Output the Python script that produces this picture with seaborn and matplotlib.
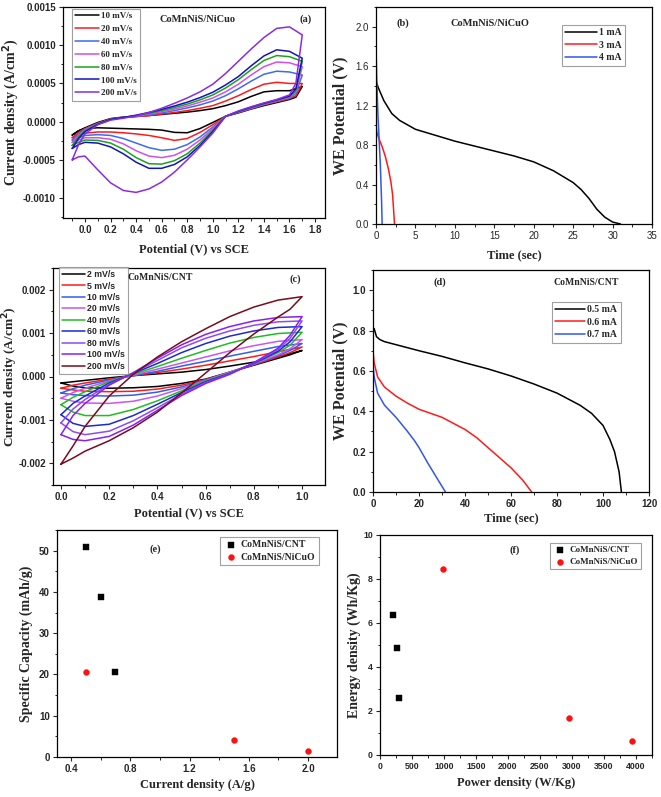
import matplotlib
matplotlib.use("Agg")
import matplotlib.pyplot as plt
from matplotlib.ticker import AutoMinorLocator, FormatStrFormatter, MultipleLocator
import pandas as pd
import seaborn as sns

W, H = 661, 797

# ---------------- (a) CV, CoMnNiS/NiCuO  (current in 1e-4 A/cm2) ----------------
A_RATES = ["10 mV/s", "20 mV/s", "40 mV/s", "60 mV/s", "80 mV/s", "100 mV/s", "200 mV/s"]
A_COLORS = ["black", "#ff1a1a", "#3a6cf4", "#d24fe8", "#1aa31a", "#1414b8", "#8a2be2"]
A_E_FWD = [-0.1, -0.05, 0.0, 0.1, 0.2, 0.3, 0.4, 0.5, 0.6, 0.7, 0.8, 0.9, 1.0, 1.1, 1.2, 1.3, 1.4, 1.5, 1.6, 1.7]
A_E_BWD = [1.7, 1.65, 1.6, 1.5, 1.4, 1.3, 1.2, 1.1, 1.0, 0.9, 0.8, 0.7, 0.6, 0.5, 0.4, 0.3, 0.2, 0.1, 0.0, -0.05, -0.1]
A_FWD = {
    "10 mV/s": [-1.75, -1.2, -0.8, -0.1, 0.4, 0.6, 0.7, 0.8, 0.95, 1.1, 1.25, 1.45, 1.7, 2.1, 2.6, 3.3, 3.9, 4.05, 4.05, 4.6],
    "20 mV/s": [-2.1, -1.4, -0.9, -0.2, 0.35, 0.55, 0.65, 0.8, 1.0, 1.2, 1.45, 1.75, 2.1, 2.7, 3.4, 4.2, 4.9, 5.15, 5.0, 5.0],
    "40 mV/s": [-2.4, -1.6, -1.0, -0.25, 0.3, 0.55, 0.7, 0.9, 1.15, 1.45, 1.8, 2.2, 2.7, 3.4, 4.3, 5.3, 6.2, 6.6, 6.5, 6.1],
    "60 mV/s": [-2.7, -1.8, -1.1, -0.3, 0.3, 0.55, 0.75, 1.0, 1.3, 1.65, 2.05, 2.55, 3.1, 3.9, 4.9, 6.1, 7.2, 7.8, 7.7, 7.2],
    "80 mV/s": [-3.1, -2.0, -1.2, -0.3, 0.3, 0.55, 0.8, 1.1, 1.45, 1.85, 2.3, 2.85, 3.5, 4.4, 5.5, 6.8, 8.0, 8.65, 8.5, 7.9],
    "100 mV/s": [-3.5, -2.2, -1.3, -0.35, 0.3, 0.55, 0.85, 1.2, 1.6, 2.05, 2.55, 3.15, 3.85, 4.8, 5.9, 7.3, 8.6, 9.4, 9.2, 8.3],
    "200 mV/s": [-5.0, -3.0, -1.6, -0.4, 0.2, 0.45, 0.75, 1.2, 1.75, 2.4, 3.1, 3.9, 4.9, 6.3, 7.9, 9.5, 11.0, 12.2, 12.4, 11.35],
}
A_BWD = {
    "10 mV/s": [4.6, 3.2, 2.9, 2.5, 2.1, 1.65, 1.15, 0.7, -0.1, -0.9, -1.45, -1.4, -1.1, -1.0, -0.95, -0.9, -0.85, -0.8, -0.9, -1.2, -1.75],
    "20 mV/s": [5.0, 3.4, 3.0, 2.6, 2.2, 1.7, 1.2, 0.7, -0.4, -1.4, -2.2, -2.45, -2.1, -1.8, -1.6, -1.45, -1.35, -1.35, -1.5, -1.8, -2.1],
    "40 mV/s": [6.1, 3.7, 3.1, 2.7, 2.25, 1.75, 1.25, 0.7, -0.7, -2.0, -3.0, -3.6, -3.75, -3.4, -2.8, -2.2, -1.8, -1.7, -1.8, -2.1, -2.4],
    "60 mV/s": [7.2, 3.9, 3.2, 2.75, 2.3, 1.8, 1.3, 0.7, -0.9, -2.4, -3.6, -4.4, -4.7, -4.5, -3.8, -2.9, -2.3, -2.1, -2.1, -2.4, -2.7],
    "80 mV/s": [7.9, 4.1, 3.3, 2.8, 2.35, 1.85, 1.3, 0.7, -1.1, -2.8, -4.2, -5.1, -5.55, -5.5, -4.7, -3.6, -2.8, -2.45, -2.4, -2.7, -3.1],
    "100 mV/s": [8.3, 4.3, 3.35, 2.85, 2.4, 1.9, 1.35, 0.7, -1.3, -3.1, -4.6, -5.6, -6.1, -6.1, -5.3, -4.2, -3.3, -2.8, -2.7, -3.0, -3.5],
    "200 mV/s": [11.35, 5.0, 3.5, 2.9, 2.45, 1.95, 1.4, 0.7, -1.5, -3.3, -5.0, -6.6, -7.9, -8.8, -9.25, -9.0, -8.0, -6.3, -4.5, -4.6, -5.0],
}

# ---------------- (b) GCD, CoMnNiS/NiCuO ----------------
B_T_1MA = [0, 0.3, 1, 2, 3, 5, 7.5, 10, 12.5, 15, 17.5, 20, 22.5, 25, 26, 27, 28, 29, 30, 31]
B_V_1MA = [1.45, 1.38, 1.25, 1.12, 1.05, 0.96, 0.9, 0.84, 0.79, 0.74, 0.69, 0.63, 0.54, 0.42, 0.35, 0.26, 0.15, 0.07, 0.02, 0.0]
B_T_3MA = [0, 0.1, 0.4, 0.8, 1.2, 1.6, 1.9, 2.1, 2.25, 2.35]
B_V_3MA = [1.0, 0.93, 0.86, 0.78, 0.68, 0.55, 0.42, 0.3, 0.12, 0.0]
B_T_4MA = [0, 0.1, 0.25, 0.4, 0.55, 0.7, 0.78]
B_V_4MA = [1.8, 1.45, 1.1, 0.85, 0.6, 0.25, 0.0]

# ---------------- (c) CV, CoMnNiS/CNT  (current in 1e-3 A/cm2) ----------------
C_RATES = ["2 mV/s", "5 mV/s", "10 mV/s", "20 mV/s", "40 mV/s", "60 mV/s", "80 mV/s", "100 mV/s", "200 mV/s"]
C_COLORS = ["black", "#ff1a1a", "#2f5ef0", "#cc55ee", "#22bb22", "#1a2ad0", "#8f4af0", "#8a1ef5", "#7a0a1e"]
C_E_FWD = [0.0, 0.05, 0.1, 0.2, 0.3, 0.4, 0.5, 0.6, 0.7, 0.8, 0.9, 1.0]
C_E_BWD = [1.0, 0.95, 0.9, 0.8, 0.7, 0.6, 0.5, 0.4, 0.3, 0.2, 0.1, 0.05, 0.0]
C_FWD = {
    "2 mV/s": [-0.15, -0.12, -0.09, -0.03, 0.02, 0.06, 0.1, 0.16, 0.24, 0.33, 0.45, 0.6],
    "5 mV/s": [-0.27, -0.2, -0.15, -0.06, 0.02, 0.09, 0.17, 0.26, 0.36, 0.46, 0.57, 0.68],
    "10 mV/s": [-0.38, -0.28, -0.2, -0.08, 0.02, 0.12, 0.24, 0.35, 0.47, 0.58, 0.69, 0.76],
    "20 mV/s": [-0.5, -0.37, -0.27, -0.1, 0.03, 0.17, 0.31, 0.45, 0.59, 0.71, 0.81, 0.85],
    "40 mV/s": [-0.65, -0.48, -0.35, -0.12, 0.05, 0.23, 0.42, 0.6, 0.77, 0.9, 0.99, 1.02],
    "60 mV/s": [-0.88, -0.62, -0.45, -0.15, 0.07, 0.3, 0.55, 0.76, 0.93, 1.05, 1.13, 1.15],
    "80 mV/s": [-1.07, -0.75, -0.53, -0.18, 0.08, 0.37, 0.66, 0.88, 1.05, 1.18, 1.26, 1.28],
    "100 mV/s": [-1.34, -0.9, -0.62, -0.2, 0.09, 0.42, 0.73, 0.97, 1.15, 1.28, 1.36, 1.38],
    "200 mV/s": [-2.02, -1.6, -1.15, -0.45, 0.05, 0.45, 0.8, 1.1, 1.38, 1.6, 1.76, 1.84],
}
C_BWD = {
    "2 mV/s": [0.6, 0.5, 0.42, 0.26, 0.1, -0.06, -0.16, -0.23, -0.26, -0.27, -0.26, -0.22, -0.15],
    "5 mV/s": [0.68, 0.55, 0.45, 0.27, 0.1, -0.07, -0.2, -0.29, -0.34, -0.35, -0.34, -0.31, -0.27],
    "10 mV/s": [0.76, 0.6, 0.48, 0.28, 0.1, -0.08, -0.24, -0.36, -0.43, -0.45, -0.44, -0.42, -0.38],
    "20 mV/s": [0.85, 0.64, 0.5, 0.29, 0.1, -0.09, -0.28, -0.45, -0.57, -0.62, -0.61, -0.57, -0.5],
    "40 mV/s": [1.02, 0.72, 0.55, 0.3, 0.08, -0.1, -0.33, -0.56, -0.76, -0.9, -0.9, -0.82, -0.65],
    "60 mV/s": [1.15, 0.8, 0.58, 0.3, 0.07, -0.12, -0.37, -0.64, -0.9, -1.1, -1.15, -1.08, -0.88],
    "80 mV/s": [1.28, 0.88, 0.62, 0.31, 0.06, -0.14, -0.41, -0.72, -1.02, -1.26, -1.34, -1.27, -1.07],
    "100 mV/s": [1.38, 0.95, 0.65, 0.32, 0.05, -0.16, -0.44, -0.78, -1.12, -1.38, -1.48, -1.45, -1.34],
    "200 mV/s": [1.84, 1.55, 1.37, 0.98, 0.55, 0.08, -0.38, -0.82, -1.18, -1.48, -1.72, -1.88, -2.02],
}

# ---------------- (d) GCD, CoMnNiS/CNT ----------------
D_T_05 = [0, 0.5, 1.5, 3, 5, 10, 20, 30, 40, 50, 60, 70, 80, 90, 95, 100, 103, 105, 107, 108]
D_V_05 = [0.79, 0.81, 0.77, 0.755, 0.745, 0.73, 0.7, 0.672, 0.64, 0.61, 0.575, 0.535, 0.49, 0.43, 0.39, 0.33, 0.26, 0.2, 0.1, 0.0]
D_T_06 = [0, 0.5, 2, 5, 10, 15, 20, 30, 40, 45, 50, 55, 60, 65, 69]
D_V_06 = [0.70, 0.64, 0.57, 0.52, 0.475, 0.44, 0.41, 0.37, 0.31, 0.27, 0.22, 0.17, 0.12, 0.06, 0.0]
D_T_07 = [0, 0.5, 2, 5, 10, 15, 18, 20, 24, 28, 31.5]
D_V_07 = [0.63, 0.57, 0.49, 0.43, 0.37, 0.3, 0.255, 0.22, 0.14, 0.065, 0.0]

# ---------------- (e) specific capacity, (f) Ragone ----------------
E_CNT_J = [0.5, 0.6, 0.7]
E_CNT_Q = [50.8, 38.8, 20.6]
E_NICUO_J = [0.5, 1.5, 2.0]
E_NICUO_Q = [20.7, 4.1, 1.5]
F_CNT_P = [208, 258, 300]
F_CNT_E = [6.35, 4.85, 2.6]
F_NICUO_P = [990, 2955, 3935]
F_NICUO_E = [8.45, 1.68, 0.63]

SERIF = "Liberation Serif"
SANS = "Liberation Sans"

sns.set_style("ticks")
plt.rcParams.update({
    "font.family": [SANS, "DejaVu Sans"],
    "font.weight": "bold",
    "axes.unicode_minus": False,
    "axes.linewidth": 0.9,
    "axes.edgecolor": "black",
    "xtick.labelsize": 7,
    "ytick.labelsize": 7,
    "xtick.major.size": 3.2,
    "ytick.major.size": 3.2,
    "xtick.minor.size": 1.8,
    "ytick.minor.size": 1.8,
    "xtick.major.width": 0.8,
    "ytick.major.width": 0.8,
    "xtick.minor.width": 0.7,
    "ytick.minor.width": 0.7,
    "xtick.major.pad": 2,
    "ytick.major.pad": 2,
})

fig = plt.figure(figsize=(W / 100, H / 100), dpi=100)


def make_ax(l, t, r, b):
    return fig.add_axes([l / W, 1 - b / H, (r - l) / W, (b - t) / H])


def style_ax(ax, box, xlabel, ylabel, ylab_right, xlab_top, ysize=10):
    l, t, r, b = box
    for s in ax.spines.values():
        s.set_visible(True)
        s.set_color("black")
    ax.xaxis.set_minor_locator(AutoMinorLocator(2))
    ax.yaxis.set_minor_locator(AutoMinorLocator(2))
    ax.tick_params(which="both", direction="out", top=False, right=False)
    ax.set_xlabel(xlabel, family=SERIF, fontsize=9, fontweight="bold")
    ax.set_ylabel(ylabel, family=SERIF, fontsize=ysize, fontweight="bold")
    ax.yaxis.set_label_coords((ylab_right - l) / (r - l), 0.5)
    ax.xaxis.set_label_coords(0.5, -(xlab_top - b) / (b - t))


def ftext(x, y, s, size=7.5):
    fig.text(x / W, 1 - y / H, s, ha="center", va="center", family=SERIF,
             fontsize=size, fontweight="bold")


def put_legend(ax, x, y, family=SERIF, size=6.5, handlelength=2.6, labelspacing=0.35):
    leg = ax.legend(loc="upper left", bbox_to_anchor=(x / W, 1 - y / H),
                    bbox_transform=fig.transFigure, frameon=True, fancybox=False,
                    prop={"family": family, "size": size, "weight": "bold"},
                    handlelength=handlelength, borderpad=0.35, labelspacing=labelspacing,
                    handletextpad=0.3, borderaxespad=0)
    leg.get_frame().set_edgecolor("#888888")
    leg.get_frame().set_linewidth(0.8)
    return leg


def cv_frame(e_fwd, e_bwd, fwd, bwd, rates, scale):
    rows = []
    for rate in rates:
        for e, j in zip(e_fwd + e_bwd, fwd[rate] + bwd[rate]):
            rows.append({"E": e, "j": j * scale, "rate": rate})
    return pd.DataFrame(rows)


# ---- (a)
box_a = (63, 7, 325, 218)
ax = make_ax(*box_a)
df_a = cv_frame(A_E_FWD, A_E_BWD, A_FWD, A_BWD, A_RATES, 1e-4)
for rate, col in zip(A_RATES, A_COLORS):
    sub = df_a[df_a["rate"] == rate]
    sns.lineplot(data=sub, x="E", y="j", color=col, lw=1.1, sort=False,
                 estimator=None, label=rate, ax=ax)
ax.set_xlim(-0.172, 1.878)
ax.set_ylim(-0.00126, 0.0015)
ax.xaxis.set_major_locator(MultipleLocator(0.2))
ax.yaxis.set_major_locator(MultipleLocator(0.0005))
ax.xaxis.set_major_formatter(FormatStrFormatter("%.1f"))
ax.yaxis.set_major_formatter(FormatStrFormatter("%.4f"))
style_ax(ax, box_a, "Potential (V) vs SCE", "Current density (A/cm$^\\mathbf{2}$)", 21, 243)
put_legend(ax, 72, 9, labelspacing=0.5)
ftext(198, 19, "CoMnNiS/NiCuo")
ftext(306, 19, "(a)")

# ---- (b)
box_b = (376, 7, 652, 224)
ax = make_ax(*box_b)
for t, v, lab, col in [(B_T_1MA, B_V_1MA, "1 mA", "black"),
                       (B_T_3MA, B_V_3MA, "3 mA", "#ff1a1a"),
                       (B_T_4MA, B_V_4MA, "4 mA", "#3355ee")]:
    sns.lineplot(x=t, y=v, color=col, lw=1.1, sort=False, estimator=None, label=lab, ax=ax)
ax.set_xlim(0, 35)
ax.set_ylim(0, 2.2)
ax.xaxis.set_major_locator(MultipleLocator(5))
ax.yaxis.set_major_locator(MultipleLocator(0.4))
ax.yaxis.set_major_formatter(FormatStrFormatter("%.1f"))
style_ax(ax, box_b, "Time (sec)", "WE Potential (V)", 348, 249, ysize=11.5)
for lab in ax.get_xticklabels() + ax.get_yticklabels():
    lab.set_fontweight("normal")
put_legend(ax, 562, 25, size=7, handlelength=3.2)
ftext(403, 23, "(b)")
ftext(490, 23, "CoMnNiS/NiCuO")

# ---- (c)
box_c = (53, 268, 325, 485)
ax = make_ax(*box_c)
df_c = cv_frame(C_E_FWD, C_E_BWD, C_FWD, C_BWD, C_RATES, 1e-3)
for rate, col in zip(C_RATES, C_COLORS):
    sub = df_c[df_c["rate"] == rate]
    sns.lineplot(data=sub, x="E", y="j", color=col, lw=1.1, sort=False,
                 estimator=None, label=rate, ax=ax)
ax.set_xlim(-0.033, 1.095)
ax.set_ylim(-0.0025, 0.0025)
ax.xaxis.set_major_locator(MultipleLocator(0.2))
ax.yaxis.set_major_locator(MultipleLocator(0.001))
ax.xaxis.set_major_formatter(FormatStrFormatter("%.1f"))
ax.yaxis.set_major_formatter(FormatStrFormatter("%.3f"))
style_ax(ax, box_c, "Potential (V) vs SCE", "Current density (A/cm$^\\mathbf{2}$)", 20, 507, ysize=9.5)
put_legend(ax, 59, 267, family=SANS, size=6.3, handlelength=2.6, labelspacing=0.28)
ftext(160, 278, "CoMnNiS/CNT", size=7)
ftext(295, 279, "(c)")

# ---- (d)
box_d = (373, 270, 649, 492)
ax = make_ax(*box_d)
for t, v, lab, col in [(D_T_05, D_V_05, "0.5 mA", "black"),
                       (D_T_06, D_V_06, "0.6 mA", "#ff1a1a"),
                       (D_T_07, D_V_07, "0.7 mA", "#3355ee")]:
    sns.lineplot(x=t, y=v, color=col, lw=1.1, sort=False, estimator=None, label=lab, ax=ax)
ax.set_xlim(0, 120)
ax.set_ylim(0, 1.1)
ax.xaxis.set_major_locator(MultipleLocator(20))
ax.yaxis.set_major_locator(MultipleLocator(0.2))
ax.yaxis.set_major_formatter(FormatStrFormatter("%.1f"))
style_ax(ax, box_d, "Time (sec)", "WE Potential (V)", 348, 512, ysize=11.5)
put_legend(ax, 552, 302, size=7, handlelength=3.0)
ftext(440, 282, "(d)")
ftext(586, 282, "CoMnNiS/CNT", size=7)

# ---- (e)
box_e = (57, 530, 337, 757)
ax = make_ax(*box_e)
sns.scatterplot(x=E_CNT_J, y=E_CNT_Q, marker="s", s=14, color="black",
                edgecolor="black", linewidth=0.3, label="CoMnNiS/CNT", ax=ax)
sns.scatterplot(x=E_NICUO_J, y=E_NICUO_Q, marker="o", s=18, color="#ff1010",
                edgecolor="#ff1010", linewidth=0.3, label="CoMnNiS/NiCuO", ax=ax)
ax.set_xlim(0.305, 2.196)
ax.set_ylim(0, 55)
ax.xaxis.set_major_locator(MultipleLocator(0.4))
ax.yaxis.set_major_locator(MultipleLocator(10))
ax.xaxis.set_major_formatter(FormatStrFormatter("%.1f"))
style_ax(ax, box_e, "Current density (A/g)", "Specific Capacity (mAh/g)", 33, 779)
put_legend(ax, 220, 537, size=7, handlelength=1.5)
ftext(155, 549, "(e)")

# ---- (f)
box_f = (380, 535, 652, 755)
ax = make_ax(*box_f)
sns.scatterplot(x=F_CNT_P, y=F_CNT_E, marker="s", s=14, color="black",
                edgecolor="black", linewidth=0.3, label="CoMnNiS/CNT", ax=ax)
sns.scatterplot(x=F_NICUO_P, y=F_NICUO_E, marker="o", s=18, color="#ff1010",
                edgecolor="#ff1010", linewidth=0.3, label="CoMnNiS/NiCuO", ax=ax)
ax.set_xlim(0, 4250)
ax.set_ylim(0, 10)
ax.xaxis.set_major_locator(MultipleLocator(500))
ax.yaxis.set_major_locator(MultipleLocator(2))
style_ax(ax, box_f, "Power density (W/Kg)", "Energy density (Wh/Kg)", 361, 777)
for lab in ax.get_xticklabels() + ax.get_yticklabels():
    lab.set_fontsize(6.3)
put_legend(ax, 550, 543, size=6.5, handlelength=1.5)
ftext(515, 550, "(f)")

fig.savefig("out.png", dpi=100, facecolor="white")
